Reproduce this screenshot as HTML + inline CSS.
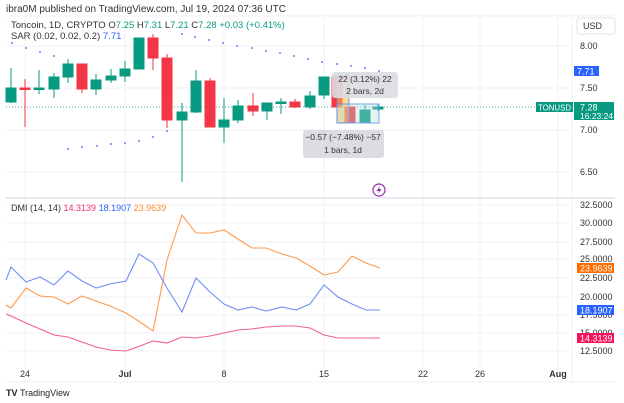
<!DOCTYPE html>
<html><head><meta charset="utf-8"><style>
body{margin:0;background:#fff;}
svg{display:block;font-family:"Liberation Sans",sans-serif;}
</style></head><body>
<svg width="624" height="403" viewBox="0 0 624 403" xmlns="http://www.w3.org/2000/svg">
<rect width="624" height="403" fill="#fff"/>
<text x="6" y="12" font-size="10" fill="#333">ibra0M published on TradingView.com, Jul 19, 2024 07:36 UTC</text>
<g stroke="#f0f2f5" stroke-width="1">
<line x1="6" y1="16" x2="615" y2="16"/>
<line x1="6" y1="46" x2="570" y2="46"/><line x1="6" y1="88" x2="570" y2="88"/><line x1="6" y1="130" x2="570" y2="130"/><line x1="6" y1="172" x2="570" y2="172"/>
<line x1="6" y1="205" x2="570" y2="205"/><line x1="6" y1="223" x2="570" y2="223"/><line x1="6" y1="242" x2="570" y2="242"/><line x1="6" y1="259" x2="570" y2="259"/><line x1="6" y1="278" x2="570" y2="278"/><line x1="6" y1="297" x2="570" y2="297"/><line x1="6" y1="315" x2="570" y2="315"/><line x1="6" y1="333" x2="570" y2="333"/><line x1="6" y1="351" x2="570" y2="351"/>
<line x1="25" y1="16" x2="25" y2="382"/><line x1="125" y1="16" x2="125" y2="382"/><line x1="224" y1="16" x2="224" y2="382"/><line x1="324" y1="16" x2="324" y2="382"/><line x1="423" y1="16" x2="423" y2="382"/><line x1="480" y1="16" x2="480" y2="382"/><line x1="558" y1="16" x2="558" y2="382"/>
<line x1="572" y1="16" x2="572" y2="382"/>
<line x1="6" y1="382" x2="615" y2="382"/>
</g>
<line x1="6" y1="198" x2="615" y2="198" stroke="#e0e3eb" stroke-width="1.5"/>
<text x="11" y="28" font-size="9.5" fill="#333">Toncoin, 1D, CRYPTO <tspan>O</tspan><tspan fill="#089981">7.25</tspan> H<tspan fill="#089981">7.31</tspan> L<tspan fill="#089981">7.21</tspan> C<tspan fill="#089981">7.28 +0.03 (+0.41%)</tspan></text>
<text x="11" y="39" font-size="9.5" fill="#333">SAR (0.02, 0.02, 0.2) <tspan fill="#2962ff">7.71</tspan></text>
<text x="11" y="211" font-size="9" fill="#333">DMI (14, 14) <tspan fill="#f23670">14.3139</tspan> <tspan fill="#2962ff">18.1907</tspan> <tspan fill="#ff8c2e">23.9639</tspan></text>
<line x1="6" y1="107" x2="572" y2="107" stroke="#089981" stroke-width="0.8" stroke-dasharray="1,2"/>
<g stroke-width="1">
<g stroke="#089981" fill="#089981">
<line x1="11" y1="68" x2="11" y2="103"/><rect x="6" y="88" width="10" height="14"/>
<line x1="39" y1="70" x2="39" y2="94"/><rect x="34" y="88" width="10" height="1.5"/>
<line x1="54" y1="73" x2="54" y2="98"/><rect x="49" y="77" width="10" height="12"/>
<line x1="68" y1="59" x2="68" y2="83"/><rect x="63" y="64" width="10" height="13"/>
<line x1="96" y1="74" x2="96" y2="95"/><rect x="91" y="80" width="10" height="9"/>
<line x1="111" y1="69" x2="111" y2="83"/><rect x="106" y="76" width="10" height="4"/>
<line x1="125" y1="61" x2="125" y2="82"/><rect x="120" y="69" width="10" height="7"/>
<line x1="139" y1="38" x2="139" y2="69"/><rect x="134" y="38" width="10" height="31"/>
<line x1="182" y1="103" x2="182" y2="182"/><rect x="177" y="112" width="10" height="8"/>
<line x1="196" y1="70" x2="196" y2="113"/><rect x="191" y="81" width="10" height="31"/>
<line x1="224" y1="98" x2="224" y2="143"/><rect x="219" y="120" width="10" height="7"/>
<line x1="238" y1="100" x2="238" y2="123"/><rect x="233" y="106" width="10" height="14"/>
<line x1="267" y1="103" x2="267" y2="120"/><rect x="262" y="103" width="10" height="8"/>
<line x1="281" y1="98" x2="281" y2="114"/><rect x="276" y="102" width="10" height="1.5"/>
<line x1="310" y1="91" x2="310" y2="109"/><rect x="305" y="96" width="10" height="11"/>
<line x1="324" y1="77" x2="324" y2="99"/><rect x="319" y="77" width="10" height="18"/>
<line x1="365" y1="105" x2="365" y2="123"/><rect x="360" y="110" width="10" height="12"/>
<line x1="378" y1="104" x2="378" y2="111"/><rect x="373" y="107" width="10" height="2"/>
</g>
<g stroke="#f23645" fill="#f23645">
<line x1="25" y1="79" x2="25" y2="127"/><rect x="20" y="88" width="10" height="1.5"/>
<line x1="82" y1="64" x2="82" y2="93"/><rect x="77" y="64" width="10" height="25"/>
<line x1="153" y1="34" x2="153" y2="70"/><rect x="148" y="38" width="10" height="20"/>
<line x1="167" y1="54" x2="167" y2="128"/><rect x="162" y="58" width="10" height="62"/>
<line x1="210" y1="78" x2="210" y2="127"/><rect x="205" y="81" width="10" height="46"/>
<line x1="253" y1="93" x2="253" y2="116"/><rect x="248" y="106" width="10" height="5"/>
<line x1="295" y1="99" x2="295" y2="108"/><rect x="290" y="102" width="10" height="5"/>
<rect x="332" y="77" width="10" height="30"/>
<rect x="345" y="107" width="10" height="15"/>
</g>
</g>
<rect x="337" y="75" width="12" height="48" fill="#ffb74d" fill-opacity="0.55" stroke="#5b8def" stroke-width="0.8"/>
<rect x="337" y="104" width="42" height="19" fill="#b2dfdb" fill-opacity="0.35" stroke="#5b8def" stroke-width="0.8"/>
<rect x="332" y="72" width="66" height="26" rx="3" fill="#dcdde1" fill-opacity="0.9"/>
<text x="365" y="82" font-size="8.5" fill="#333" text-anchor="middle">22 (3.12%) 22</text>
<text x="365" y="94" font-size="8.5" fill="#333" text-anchor="middle">2 bars, 2d</text>
<rect x="303" y="130" width="81" height="28" rx="3" fill="#dcdde1"/>
<text x="343" y="140" font-size="8.5" fill="#333" text-anchor="middle">−0.57 (−7.48%) −57</text>
<text x="343" y="153" font-size="8.5" fill="#333" text-anchor="middle">1 bars, 1d</text>
<g fill="#2962ff">
<circle cx="12" cy="43" r="0.9"/><circle cx="26" cy="48" r="0.9"/><circle cx="40" cy="52" r="0.9"/><circle cx="54" cy="56" r="0.9"/>
<circle cx="68" cy="149" r="0.9"/><circle cx="82" cy="147" r="0.9"/><circle cx="97" cy="146" r="0.9"/><circle cx="111" cy="144" r="0.9"/><circle cx="125" cy="143" r="0.9"/><circle cx="139" cy="141" r="0.9"/><circle cx="153" cy="137" r="0.9"/><circle cx="167" cy="131" r="0.9"/>
<circle cx="182" cy="34" r="0.9"/><circle cx="195" cy="37" r="0.9"/><circle cx="209" cy="40" r="0.9"/><circle cx="223" cy="43" r="0.9"/><circle cx="237" cy="46" r="0.9"/><circle cx="252" cy="48" r="0.9"/><circle cx="266" cy="51" r="0.9"/><circle cx="280" cy="53" r="0.9"/><circle cx="294" cy="56" r="0.9"/><circle cx="308" cy="59" r="0.9"/><circle cx="322" cy="62" r="0.9"/><circle cx="337" cy="64" r="0.9"/><circle cx="351" cy="66" r="0.9"/><circle cx="365" cy="68" r="0.9"/><circle cx="379" cy="71" r="0.9"/>
</g>
<circle cx="379" cy="190" r="6" fill="#fff" stroke="#9c27b0" stroke-width="1.2"/>
<path d="M380 186 L376.5 191 L379 191 L378 194 L381.5 189 L379 189 Z" fill="#9c27b0"/>
<polyline fill="none" stroke="#ff9a4d" stroke-width="1.1" points="6,305 11,308 26,288 40,296 54,297 68,304 82,296 96,301 110,306 126,313 140,322 153,331 167,260 182,215 196,233 210,233 224,230 238,239 252,248 266,248 282,254 296,258 310,266 324,275 338,272 352,256 366,263 380,268"/>
<polyline fill="none" stroke="#6f8ff5" stroke-width="1.1" points="6,280 11,267 26,282 40,277 54,285 68,271 82,281 96,288 110,284 126,281 139,254 153,263 167,288 182,312 196,278 210,292 224,304 238,310 252,307 266,311 282,307 296,310 310,304 324,285 338,297 352,304 366,310 380,310"/>
<polyline fill="none" stroke="#f0608c" stroke-width="1.1" points="6,314 11,316 26,323 40,329 54,335 68,337 82,342 96,347 110,350 126,351 140,346 153,341 167,343 182,337 196,338 210,336 224,333 238,330 252,329 266,327 282,326 296,326 310,328 324,335 338,338 352,338 380,338"/>
<g font-size="9" fill="#333">
<rect x="577" y="18" width="38" height="16" rx="2" fill="#fff" stroke="#e0e3eb"/>
<text x="583" y="29">USD</text>
<text x="580" y="49">8.00</text><text x="580" y="91">7.50</text><text x="580" y="133">7.00</text><text x="580" y="175">6.50</text>
<text x="580" y="208">32.5000</text><text x="580" y="226">30.0000</text><text x="580" y="245">27.5000</text><text x="580" y="262">25.0000</text><text x="580" y="281">22.5000</text><text x="580" y="300">20.0000</text><text x="580" y="318">17.5000</text><text x="580" y="336">15.0000</text><text x="580" y="354">12.5000</text>
</g>
<rect x="574" y="66" width="25" height="10" fill="#2962ff"/><text x="577" y="74.5" font-size="9" fill="#fff">7.71</text>
<rect x="536" y="102" width="37" height="10" fill="#089981"/><text x="554.5" y="110.5" font-size="8" fill="#fff" text-anchor="middle" textLength="33" lengthAdjust="spacingAndGlyphs">TONUSD</text>
<rect x="574" y="102" width="40" height="18" fill="#089981"/><text x="580" y="110.5" font-size="9" fill="#fff">7.28</text><text x="580" y="119" font-size="8.5" fill="#fff">16:23:24</text>
<rect x="577" y="263" width="37" height="10" fill="#ff6d00"/><text x="580" y="271.5" font-size="9" fill="#fff">23.9639</text>
<rect x="577" y="305" width="37" height="10" fill="#2962ff"/><text x="580" y="313.5" font-size="9" fill="#fff">18.1907</text>
<rect x="577" y="333" width="37" height="10" fill="#f7135a"/><text x="580" y="341.5" font-size="9" fill="#fff">14.3139</text>
<g font-size="9" fill="#333" text-anchor="middle">
<text x="25" y="377">24</text><text x="125" y="377" font-weight="bold">Jul</text><text x="224" y="377">8</text><text x="324" y="377">15</text><text x="423" y="377">22</text><text x="480" y="377">26</text><text x="558" y="377" font-weight="bold">Aug</text>
</g>
<text x="6" y="396" font-size="9" font-weight="bold" fill="#222">TV</text>
<text x="20" y="396" font-size="9" fill="#222">TradingView</text>
</svg>
</body></html>
